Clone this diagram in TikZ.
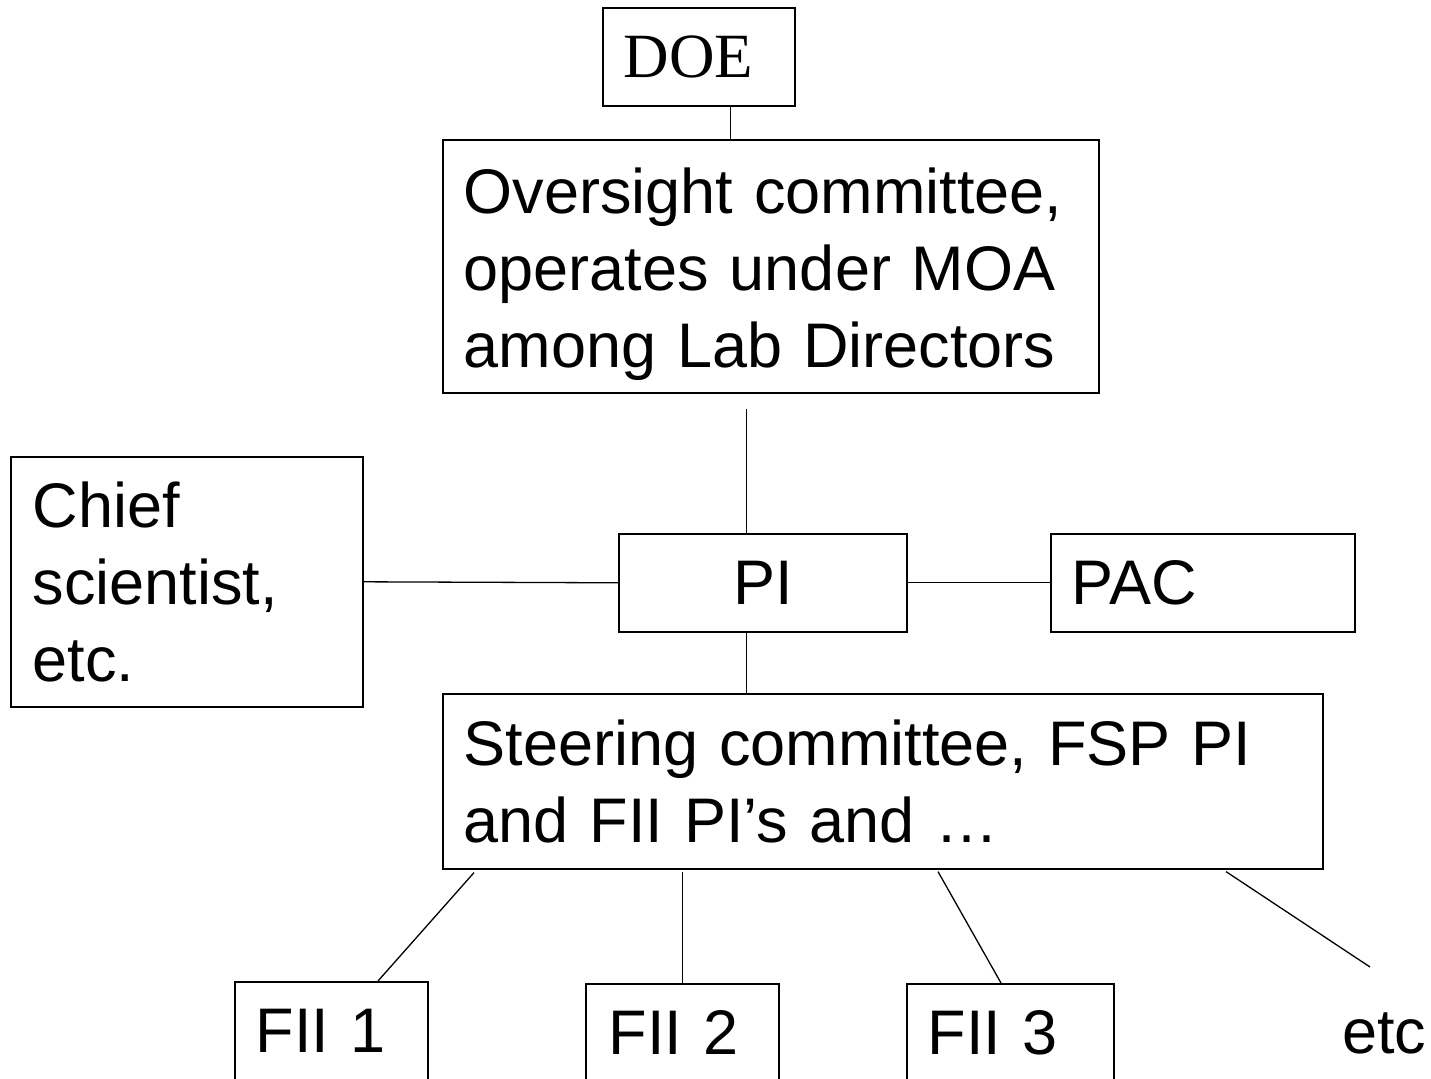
\documentclass[tikz,border=0pt]{standalone}
\usepackage{fontspec}
\setmainfont{Liberation Sans}
\newfontfamily\timesface{Liberation Serif}
\begin{document}
\begin{tikzpicture}[x=1pt,y=-1pt,
  box/.style={draw, line width=1.6pt, anchor=north west, inner xsep=21pt,
    inner ysep=0pt, align=left, font=\fontsize{63}{77}\selectfont},
  link/.style={line width=1.3pt}]
\useasboundingbox (0,0) rectangle (1431,1078);
\clip (0,0) rectangle (1431,1078);

% top of the hierarchy
\node[box, minimum width=192pt, minimum height=98pt, text width=150pt,
  font=\timesface\fontsize{63}{72}\selectfont] (doe) at (602,7) {DOE};
\node[box, minimum width=656pt, minimum height=253pt, text width=614pt] (ovs) at (442,139)
  {\rule{0pt}{61pt}Oversight committee,\\operates under MOA\\among Lab Directors};

% middle row
\node[box, minimum width=352pt, minimum height=250pt, text width=308pt, inner xsep=22pt] (chief) at (10,456)
  {Chief\\scientist,\\etc.};
\node[box, minimum width=288pt, minimum height=98pt, text width=246pt, align=center] (pi) at (618,533) {PI};
\node[box, minimum width=304pt, minimum height=98pt, text width=262pt] (pac) at (1050,533) {PAC};

% steering committee
\node[box, minimum width=880pt, minimum height=175pt, text width=838pt] (steer) at (442,693)
  {Steering committee, FSP PI\\and FII PI’s and …};

% bottom row
\node[box, minimum width=193pt, minimum height=98pt, text width=151pt] (fii1) at (234,981) {FII 1};
\node[box, minimum width=193pt, minimum height=98pt, text width=147pt, inner xsep=23pt] (fii2) at (585,983) {FII 2};
\node[box, minimum width=207pt, minimum height=98pt, text width=165pt] (fii3) at (906,983) {FII 3};
\node[anchor=base west, inner sep=0pt, font=\fontsize{63}{77}\selectfont] (etc) at (1342,1053) {etc};
\coordinate (etcend) at (1370,967);

% connectors
\draw[link] ([xshift=32pt]doe.south) -- ([xshift=32pt]doe.south |- ovs.north);
\draw[link] ([xshift=-16pt]pi.north) -- ([xshift=-16pt,yshift=-15pt]pi.north |- ovs.south);
\draw[link] (chief.east) -- (pi.west);
\draw[link] (pi.east) -- (pac.west);
\draw[link] ([xshift=-16pt]pi.south) -- ([xshift=-16pt]pi.south |- steer.north);
\draw[link] ([xshift=32pt,yshift=-3pt]steer.south west) -- ([xshift=144pt]fii1.north west);
\draw[link] (fii2.north) -- ([yshift=-2pt]fii2.north |- steer.south);
\draw[link] ([xshift=496pt,yshift=-2pt]steer.south west) -- ([xshift=95pt]fii3.north west);
\draw[link] ([xshift=784pt,yshift=-2pt]steer.south west) -- (etcend);
\end{tikzpicture}
\end{document}
